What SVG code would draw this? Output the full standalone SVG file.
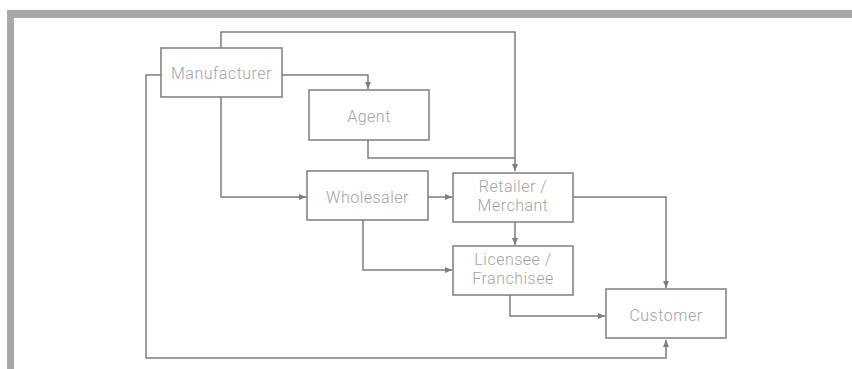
<svg xmlns="http://www.w3.org/2000/svg" width="852" height="369" viewBox="0 0 852 369">
<style>
.box{fill:#fff;stroke:#7d7d7f;stroke-width:1.5}
.lbl{font-family:Roboto,"Liberation Sans",sans-serif;font-weight:300;font-size:16px;letter-spacing:0.5px;fill:#a3a3a5;text-anchor:middle}
.ln{fill:none;stroke:#7d7d7f;stroke-width:1.5}
.frame{fill:#a7a8aa}
</style>
<defs>
<marker id="ah" markerWidth="8" markerHeight="8" refX="7" refY="4" orient="auto" markerUnits="userSpaceOnUse">
<path d="M0,1 L7,4 L0,7 Z" fill="#7d7d7f"/>
</marker>
</defs>
<rect width="852" height="369" fill="#fff"/>
<rect class="frame" x="7" y="10" width="845" height="8"/>
<rect class="frame" x="7" y="10" width="7" height="359"/>
<g id="connectors">
<path class="ln" d="M221,48 V32 H515 V171" marker-end="url(#ah)"/>
<path class="ln" d="M368,140 V158 H515"/>
<path class="ln" d="M282,75 H368 V89" marker-end="url(#ah)"/>
<path class="ln" d="M161,75 H146 V358 H666 V340" marker-end="url(#ah)"/>
<path class="ln" d="M221,97 V197 H306" marker-end="url(#ah)"/>
<path class="ln" d="M428,197 H452" marker-end="url(#ah)"/>
<path class="ln" d="M515,222 V245" marker-end="url(#ah)"/>
<path class="ln" d="M573,197 H666 V288" marker-end="url(#ah)"/>
<path class="ln" d="M363,220 V270 H452" marker-end="url(#ah)"/>
<path class="ln" d="M510,295 V316 H605" marker-end="url(#ah)"/>
</g>
<g id="manufacturer"><rect class="box" x="161" y="48" width="121" height="49"/><text class="lbl" x="221.5" y="79">Manufacturer</text></g>
<g id="agent"><rect class="box" x="309" y="90" width="120" height="50"/><text class="lbl" x="369" y="122">Agent</text></g>
<g id="wholesaler"><rect class="box" x="307" y="171" width="121" height="49"/><text class="lbl" x="367.5" y="202.5">Wholesaler</text></g>
<g id="retailer"><rect class="box" x="453" y="173" width="120" height="49"/><text class="lbl" x="513" y="192">Retailer /</text><text class="lbl" x="513" y="211">Merchant</text></g>
<g id="licensee"><rect class="box" x="453" y="246" width="120" height="49"/><text class="lbl" x="513" y="265">Licensee /</text><text class="lbl" x="513" y="284">Franchisee</text></g>
<g id="customer"><rect class="box" x="606" y="289" width="120" height="49"/><text class="lbl" x="666" y="321">Customer</text></g>
</svg>
